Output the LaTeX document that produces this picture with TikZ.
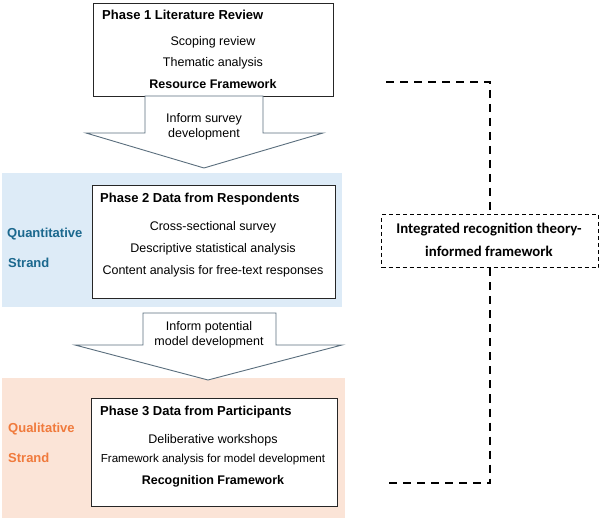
\documentclass[tikz,border=0pt]{standalone}
\usepackage{fontspec}
\setmainfont{Liberation Sans}
\newfontfamily\carlito{Carlito}
\definecolor{qblue}{RGB}{221,235,247}
\definecolor{qbluetext}{RGB}{27,104,142}
\definecolor{qorange}{RGB}{251,228,215}
\definecolor{qorangetext}{RGB}{240,122,60}
\definecolor{arrowline}{RGB}{90,110,125}
\begin{document}
\begin{tikzpicture}[x=1pt,y=-1pt,
  phasebox/.style={draw=black!85,line width=0.9pt,fill=white,inner sep=0pt},
  body/.style={font=\fontsize{12.5}{14}\selectfont,inner sep=0pt,anchor=center},
  head/.style={font=\bfseries\fontsize{13}{15}\selectfont,inner sep=0pt,anchor=west},
  strand/.style={font=\bfseries\fontsize{13}{15}\selectfont,inner sep=0pt,anchor=west},
  blockarrow/.style={draw=arrowline,line width=0.9pt,fill=white,line join=miter},
  conn/.style={line width=1.8pt,dash pattern=on 8pt off 6pt},
  intbox/.style={draw,line width=1pt,dash pattern=on 4pt off 3pt,inner sep=0pt,fill=white},
  inttext/.style={font=\carlito\bfseries\fontsize{14.8}{17}\selectfont,inner sep=0pt}
]
\useasboundingbox (0,0) rectangle (600,521);

% strand backgrounds
\node[fill=qblue,inner sep=0pt,minimum width=340pt,minimum height=134pt] (blue) at (172,240) {};
\node[fill=qorange,inner sep=0pt,minimum width=343pt,minimum height=140pt] (orange) at (173.5,448) {};

% Phase 1
\node[phasebox,minimum width=240pt,minimum height=93pt] (p1) at (213,49.5) {};
\node[head] (p1h) at (102,15) {Phase 1 Literature Review};
\node[body] (p1a) at (213,42) {Scoping review};
\node[body] (p1b) at (213,63) {Thematic analysis};
\node[body,font=\bfseries\fontsize{12.5}{14}\selectfont] (p1c) at (213,84) {Resource Framework};

% Arrow 1
\draw[blockarrow] (145,96) -- (145,133) -- (86,133) -- (204,168) -- (323,133) -- (263,133) -- (263,96) -- cycle;
\node[body] (a1a) at (204,119) {Inform survey};
\node[body] (a1b) at (204,134) {development};

% Phase 2
\node[phasebox,minimum width=243pt,minimum height=113pt] (p2) at (213.5,241.5) {};
\node[head] (p2h) at (100,199) {Phase 2 Data from Respondents};
\node[body] (p2a) at (213,227) {Cross-sectional survey};
\node[body] (p2b) at (213,249) {Descriptive statistical analysis};
\node[body] (p2c) at (213,271) {Content analysis for free-text responses};
\node[strand,text=qbluetext] (q1) at (7,234) {Quantitative};
\node[strand,text=qbluetext] (q2) at (8,263) {Strand};

% Arrow 2
\draw[blockarrow] (143,313) -- (143,345) -- (75,345) -- (208,380) -- (342,345) -- (276,345) -- (276,313) -- cycle;
\node[body] (a2a) at (209,327) {Inform potential};
\node[body] (a2b) at (209,342) {model development};

% Phase 3
\node[phasebox,minimum width=246pt,minimum height=108pt] (p3) at (214,452) {};
\node[head] (p3h) at (100,412) {Phase 3 Data from Participants};
\node[body] (p3a) at (213,440) {Deliberative workshops};
\node[body,font=\fontsize{11.6}{14}\selectfont] (p3b) at (213,460) {Framework analysis for model development};
\node[body,font=\bfseries\fontsize{12.5}{14}\selectfont] (p3c) at (213,481) {Recognition Framework};
\node[strand,text=qorangetext] (r1) at (8,429) {Qualitative};
\node[strand,text=qorangetext] (r2) at (8,458) {Strand};

% Integrated framework box
\node[intbox,minimum width=217pt,minimum height=53pt] (int) at (490,241.5) {};
\node[inttext] (inta) at (489,230) {Integrated recognition theory-};
\node[inttext] (intb) at (489,251) {informed framework};

% dashed connectors
\coordinate (c1) at (386,82);
\coordinate (c2) at (387,483);
\draw[conn] (c1) -| (int.north);
\draw[conn] (int.south) |- (c2);
\end{tikzpicture}
\end{document}
